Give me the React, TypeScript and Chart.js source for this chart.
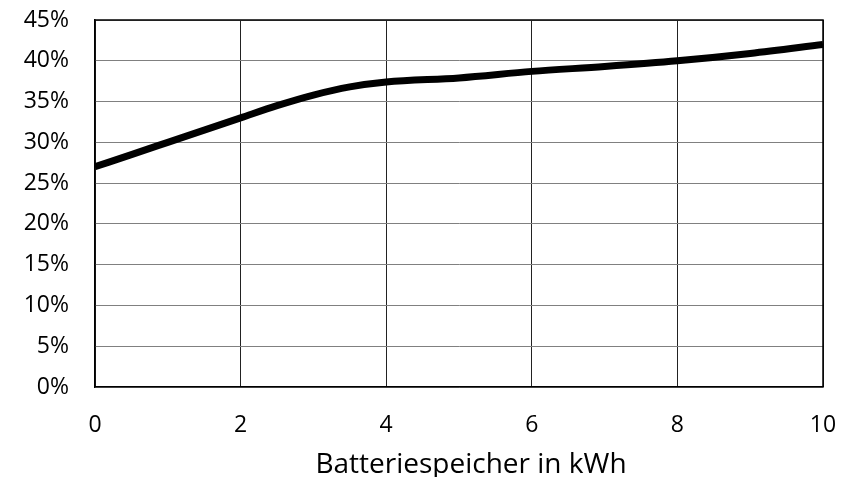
import React, { useEffect, useRef } from "react";
import { Chart, registerables } from "chart.js";

Chart.register(...registerables);

const xValues = [0, 0.5, 1, 1.5, 2, 2.5, 3, 3.5, 4, 5, 6, 7, 8, 9, 10];
const yValues = [27.0, 28.5, 30.0, 31.5, 33.0, 34.5, 35.8, 36.8, 37.4, 37.9, 38.7, 39.3, 40.0, 40.9, 42.0];
const xTitle = "Batteriespeicher in kWh";

const FONT = "'Open Sans', 'Liberation Sans', sans-serif";

export default function App() {
  const ref = useRef<HTMLCanvasElement | null>(null);
  useEffect(() => {
    document.body.style.margin = "0";
    const ctx = ref.current!;
    const chart = new Chart(ctx, {
      type: "line",
      data: {
        datasets: [
          {
            data: xValues.map((x, i) => ({ x, y: yValues[i] })),
            borderColor: "#000000",
            borderWidth: 7,
            pointRadius: 0,
            tension: 0.4,
            cubicInterpolationMode: "monotone",
            fill: false,
          },
        ],
      },
      options: {
        animation: false,
        responsive: false,
        maintainAspectRatio: false,
        layout: { padding: { top: 20, right: 29, left: 0, bottom: 0 } },
        plugins: { legend: { display: false }, tooltip: { enabled: false } },
        scales: {
          x: {
            type: "linear",
            min: 0,
            max: 10,
            ticks: {
              stepSize: 2,
              color: "#000",
              padding: 25,
              font: { family: FONT, size: 23 },
              maxRotation: 0,
            },
            grid: { color: "#222", lineWidth: 1, drawTicks: false },
            border: { color: "#000", width: 1.5 },
            title: { display: false, text: xTitle },
            afterFit: (s: any) => {
              s.height = 90;
              s.paddingLeft = 0;
              s.paddingRight = 0;
            },
          },
          y: {
            min: 0,
            max: 45,
            ticks: {
              stepSize: 5,
              color: "#000",
              padding: 26,
              callback: (v: any) => v + "%",
              font: { family: FONT, size: 23 },
            },
            grid: { color: "#808080", lineWidth: 1, drawTicks: false },
            border: { color: "#000", width: 1.5 },
            afterFit: (s: any) => {
              s.width = 95;
              s.paddingTop = 0;
              s.paddingBottom = 0;
            },
          },
        },
      },
      plugins: [
        {
          id: "frameAndTitle",
          afterDraw: (c: any) => {
            const { left, right, top, bottom } = c.chartArea;
            const g = c.ctx;
            g.save();
            g.strokeStyle = "#000";
            g.lineWidth = 1.5;
            g.beginPath();
            g.moveTo(left, top);
            g.lineTo(right, top);
            g.lineTo(right, bottom);
            g.stroke();
            g.fillStyle = "#000";
            g.font = "28px " + FONT;
            g.textAlign = "center";
            g.textBaseline = "middle";
            g.fillText(xTitle, (left + right) / 2 + 12, bottom + 78);
            g.restore();
          },
        },
      ],
    } as any);
    return () => chart.destroy();
  }, []);
  return (
    <div style={{ width: 852, height: 477 }}>
      <canvas ref={ref} width={852} height={477} style={{ width: 852, height: 477 }} />
    </div>
  );
}
